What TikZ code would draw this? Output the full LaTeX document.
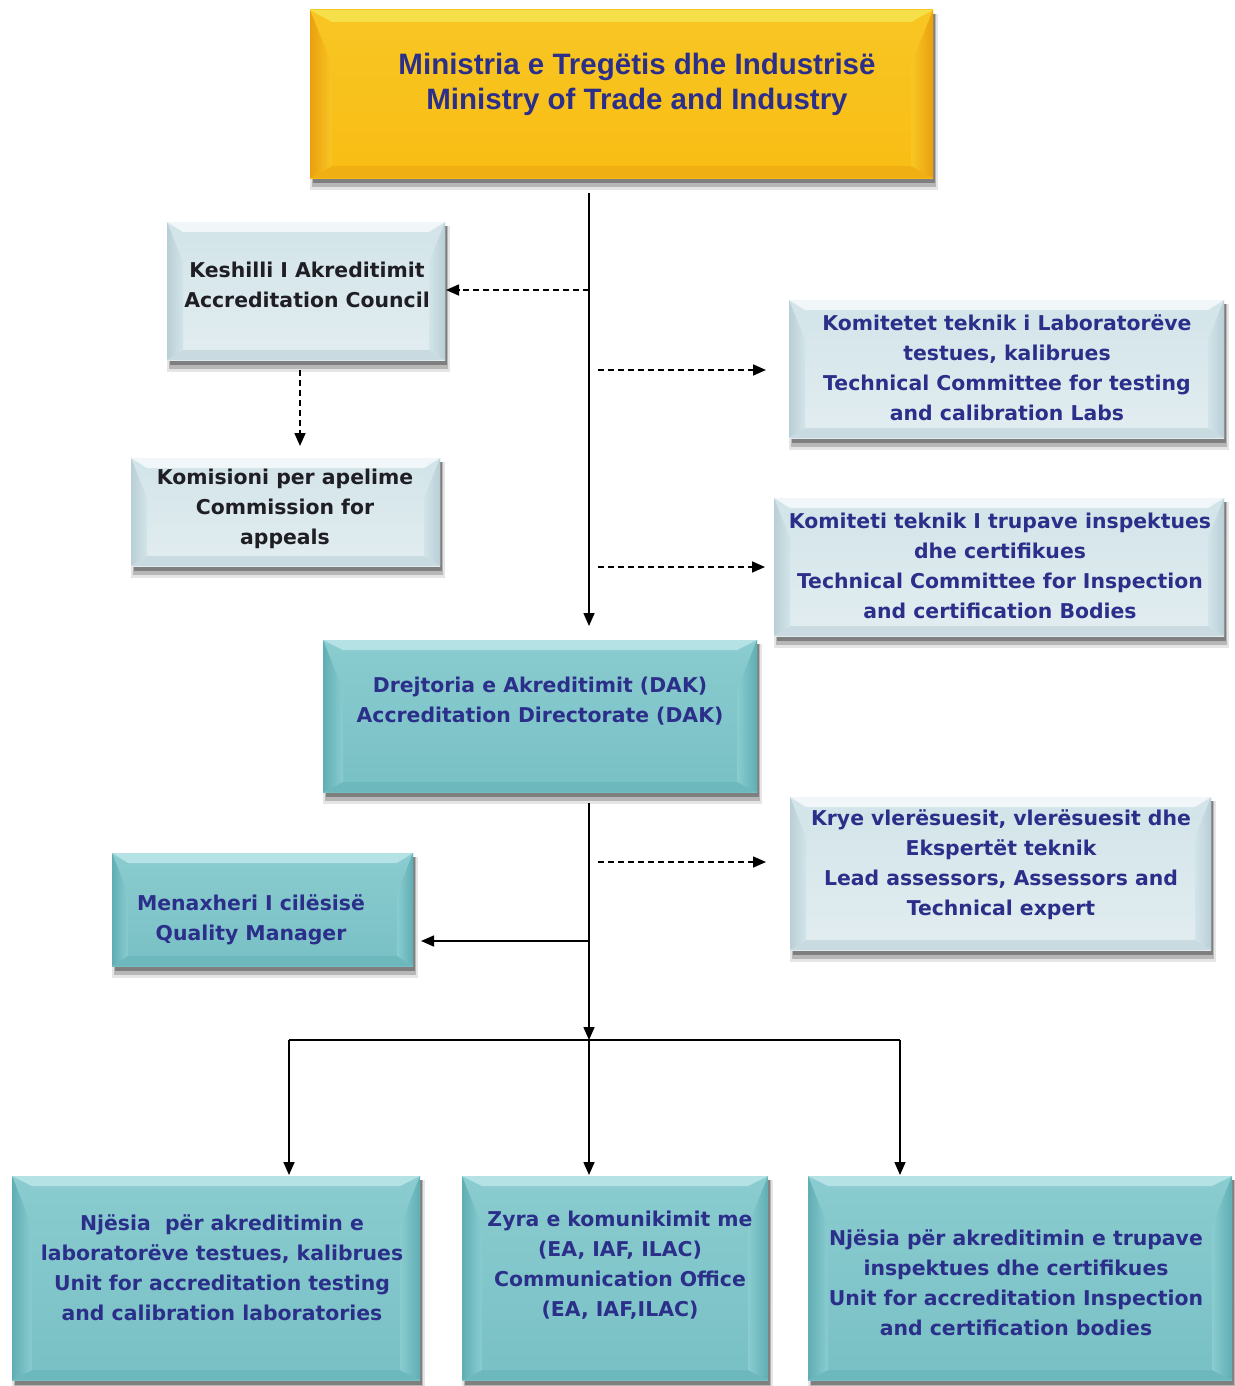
\documentclass[tikz,border=0pt]{standalone}
\usepackage{fontspec}
\setmainfont{DejaVu Sans}
\newfontfamily\arialf{Liberation Sans}
\usetikzlibrary{fit,arrows.meta,calc}
\definecolor{txtblue}{HTML}{2B2F8A}
\definecolor{txtblack}{HTML}{1E1E24}
% palettes: M main top, L main bottom, T top bevel, S side bevel, B bottom bevel
\definecolor{goldM}{HTML}{F8C624}\definecolor{goldL}{HTML}{F9BD14}
\definecolor{goldT}{HTML}{F6E04A}\definecolor{goldS}{HTML}{EAA00E}\definecolor{goldB}{HTML}{F0B014}
\definecolor{tealM}{HTML}{8ACCD0}\definecolor{tealL}{HTML}{78C0C4}
\definecolor{tealT}{HTML}{B4E2E5}\definecolor{tealS}{HTML}{5FAEB3}\definecolor{tealB}{HTML}{6DB8BC}
\definecolor{liteM}{HTML}{D2E4E9}\definecolor{liteL}{HTML}{E2EDF0}
\definecolor{liteT}{HTML}{F1F7F9}\definecolor{liteS}{HTML}{B9CFD5}\definecolor{liteB}{HTML}{C9DBE0}
\newcommand{\bevbox}[8]{% name, x1,y1,x2,y2, palette, dx, dy
  \fill[black,opacity=0.10] (#2,#3+4) rectangle (#4+5,#5+12);
  \fill[black,opacity=0.20] (#2+2,#3+4) rectangle (#4+3,#5+9);
  \fill[black,opacity=0.30] (#2+3,#3+4) rectangle (#4+2,#5+5);
  \shade[top color=#6M,bottom color=#6L] (#2,#3) rectangle (#4,#5);
  \fill[#6T] (#2,#3) -- (#4,#3) -- (#4-#7,#3+#8) -- (#2+#7,#3+#8) -- cycle;
  \fill[#6B] (#2,#5) -- (#4,#5) -- (#4-#7,#5-#8) -- (#2+#7,#5-#8) -- cycle;
  \shade[left color=#6S,right color=#6M] (#2,#3) -- (#2+#7,#3+2.5*#7) -- (#2+#7,#5-#8) -- (#2,#5) -- cycle;
  \shade[left color=#6M,right color=#6S] (#4,#3) -- (#4-#7,#3+2.5*#7) -- (#4-#7,#5-#8) -- (#4,#5) -- cycle;
  \draw[#6B,line width=1pt] (#2,#5-0.5) -- (#4,#5-0.5);
  \path (#2,#3) coordinate (#1-nw) (#4,#5) coordinate (#1-se);
  \node[inner sep=0pt,outer sep=0pt,fit=(#1-nw)(#1-se)] (#1) {};
}
\tikzset{
  txt/.style={align=center,inner sep=0pt,font=\bfseries\fontsize{20.4}{30}\selectfont,text=txtblue},
  conn/.style={line width=1.6pt,black},
  arr/.style={conn,-{Triangle[length=13pt,width=11pt]}},
  darr/.style={arr,dash pattern=on 6pt off 4pt},
}
\begin{document}
\begin{tikzpicture}[x=1pt,y=-1pt]
\useasboundingbox (0,0) rectangle (1234,1386);
\fill[white] (0,0) rectangle (1234,1386);
% boxes
\bevbox{min}{310}{10}{933}{178}{gold}{22}{12}
\bevbox{council}{167}{222}{445}{360}{lite}{16}{10}
\bevbox{comm}{131}{458}{440}{566}{lite}{16}{10}
\bevbox{tcl}{789}{300}{1224}{438}{lite}{16}{10}
\bevbox{tci}{774}{498}{1224}{636}{lite}{16}{10}
\bevbox{dak}{323}{640}{757}{792}{teal}{20}{10}
\bevbox{qm}{112}{853}{413}{966}{teal}{16}{10}
\bevbox{lead}{790}{797}{1211}{950}{lite}{16}{10}
\bevbox{bl}{12}{1176}{420}{1380}{teal}{20}{10}
\bevbox{bm}{462}{1176}{768}{1380}{teal}{20}{10}
\bevbox{br}{808}{1176}{1232}{1380}{teal}{20}{10}
% texts
\node[txt,font=\arialf\bfseries\fontsize{29.5}{35}\selectfont] (min-t) at (637,84) {Ministria e Tregëtis dhe Industrisë\\Ministry of Trade and Industry};
\node[txt,text=txtblack] (council-t) at (307,285) {Keshilli I Akreditimit\\Accreditation Council};
\node[txt,text=txtblack] (comm-t) at (285,509) {Komisioni per apelime\\Commission for\\appeals};
\node[txt] (tcl-t) at (1007,368) {Komitetet teknik i Laboratorëve\\testues, kalibrues\\Technical Committee for testing\\and calibration Labs};
\node[txt] (tci-t) at (1000,566) {Komiteti teknik I trupave inspektues\\dhe certifikues\\Technical Committee for Inspection\\and certification Bodies};
\node[txt] (dak-t) at (540,701) {Drejtoria e Akreditimit (DAK)\\Accreditation Directorate (DAK)};
\node[txt] (qm-t) at (251,920) {Menaxheri I cilësisë\\Quality Manager};
\node[txt] (lead-t) at (1001,865) {Krye vlerësuesit, vlerësuesit dhe\\Ekspertët teknik\\Lead assessors, Assessors and\\Technical expert};
\node[txt] (bl-t) at (222,1268) {Njësia\ \ për akreditimin e\\laboratorëve testues, kalibrues\\Unit for accreditation testing\\and calibration laboratories};
\node[txt] (bm-t) at (620,1265) {Zyra e komunikimit me\\(EA, IAF, ILAC)\\Communication Office\\(EA, IAF,ILAC)};
\node[txt] (br-t) at (1016,1283) {Njësia për akreditimin e trupave\\inspektues dhe certifikues\\Unit for accreditation Inspection\\and certification bodies};
% connector points
\coordinate (m0) at (589,193);
\coordinate (jc) at (589,290);
\coordinate (j1) at (598,370);
\coordinate (j2) at (598,567);
\coordinate (c1) at (300,370);
\coordinate (d0) at (589,803);
\coordinate (j3) at (598,862);
\coordinate (q0) at (589,941);
\coordinate (hub) at (589,1040);
\coordinate (hl) at (289,1040);
\coordinate (hr) at (900,1040);
% connectors
\draw[arr,shorten >=14pt] (m0) -- (m0 |- dak.north);
\draw[darr,shorten >=1pt] (jc) -- (jc -| council.east);
\draw[darr,shorten >=23pt] (j1) -- (j1 -| tcl.west);
\draw[darr,shorten >=9pt] (j2) -- (j2 -| tci.west);
\draw[darr,shorten >=12pt] (c1) -- (c1 |- comm.north);
\draw[darr,shorten >=24pt] (j3) -- (j3 -| lead.west);
\draw[arr,shorten >=8pt] (q0) -- (q0 -| qm.east);
\draw[arr] (d0) -- (hub);
\draw[conn] (hl) -- (hr);
\draw[arr,shorten >=1pt] (hl) -- (hl |- bl.north);
\draw[arr,shorten >=1pt] (hub) -- (hub |- bm.north);
\draw[arr,shorten >=1pt] (hr) -- (hr |- br.north);
\end{tikzpicture}
\end{document}
